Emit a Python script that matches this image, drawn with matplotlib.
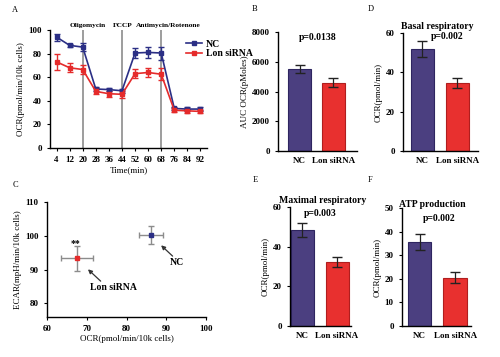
import matplotlib
matplotlib.use('Agg')
import matplotlib.pyplot as plt
from matplotlib.lines import Line2D
import numpy as np

plt.rcParams['font.family'] = 'Liberation Serif'
plt.rcParams['font.weight'] = 'bold'
plt.rcParams['font.size'] = 6.5
plt.rcParams['axes.linewidth'] = 1.0
plt.rcParams['xtick.major.size'] = 2.5
plt.rcParams['ytick.major.size'] = 2.5

# A: OCR time course
time = [4, 12, 20, 28, 36, 44, 52, 60, 68, 76, 84, 92]
nc_ocr = [94, 87, 85.5, 50, 49.5, 48.5, 80.5, 81, 80.5, 33.5, 33, 33]
nc_err = [3, 1.5, 3.5, 1.5, 1.5, 1.5, 4, 5, 5.5, 1.5, 1.5, 2]
lon_ocr = [73, 68, 66.5, 48, 46, 45.5, 63, 64, 62.5, 32, 31.5, 31]
lon_err = [7, 4, 4, 2.5, 2.5, 3, 4, 4, 5, 1.5, 1.5, 1.5]
inject_t = [20, 44, 68]
inject_lbl = ['Oligomycin', 'FCCP', 'Antimycin/Rotenone']

# C: energy map
ocr_pts = [86.2, 67.5]
ocr_pts_err = [3, 4]
ecar_pts = [100.2, 93.3]
ecar_pts_err = [2.7, 3.7]

# bar panels
groups = ['NC', 'Lon siRNA']
auc = [5500, 4600]
auc_err = [250, 300]
basal = [52, 34.5]
basal_err = [4, 2.5]
maximal = [48.5, 32.5]
maximal_err = [3.5, 2.5]
atp = [35.5, 20.5]
atp_err = [3.3, 2.2]

NAVY = '#2b2f85'
RED = '#e52b2b'
BAR_NC = '#4b3f80'
BAR_LON = '#e8302f'

W, H = 500, 357
fig = plt.figure(figsize=(5, 3.57), dpi=100)


def axpx(l, t, r, b):
    return fig.add_axes([l / W, 1 - b / H, (r - l) / W, (b - t) / H])


def clean(ax):
    ax.spines['top'].set_visible(False)
    ax.spines['right'].set_visible(False)


# ---- A
ax = axpx(50, 30, 207, 148)
clean(ax)
for t in inject_t:
    ax.axvline(t, color='#8c8c8c', lw=1.2, zorder=0)
ax.errorbar(time, nc_ocr, yerr=nc_err, color=NAVY, marker='s', ms=2.5, lw=1.2,
            capsize=2.5, elinewidth=1)
ax.errorbar(time, lon_ocr, yerr=lon_err, color=RED, marker='s', ms=2.5, lw=1.2,
            capsize=2.5, elinewidth=1)
ax.set_xlim(0, 96)
ax.set_ylim(0, 100)
ax.set_xticks(time)
ax.set_yticks([0, 20, 40, 60, 80, 100])
ax.set_xlabel('Time(min)', labelpad=1)
ax.set_ylabel('OCR(pmol/min/10k cells)', labelpad=2)
for t, s, dx in zip(inject_t, inject_lbl, [3, 0.5, 4.3]):
    ax.text(t + dx, 101.5, s, ha='center', va='bottom', fontsize=5.3)
handles = [Line2D([], [], color=NAVY, marker='s', ms=2.5, lw=1.2),
           Line2D([], [], color=RED, marker='s', ms=2.5, lw=1.2)]
ax.legend(handles, ['NC', 'Lon siRNA'], loc='upper left',
          bbox_to_anchor=(181 / W, 1 - 35 / H), bbox_transform=fig.transFigure,
          frameon=False, handlelength=1.7, handletextpad=0.4, labelspacing=0.05,
          borderpad=0, fontsize=7)


def bars(l, t, r, b, vals, errs, ylim, yticks, ylabel, xlim, ptxt, pxy, title=None, txy=None):
    ax = axpx(l, t, r, b)
    clean(ax)
    x = np.arange(len(vals))
    ax.bar(x, vals, width=0.66, color=[BAR_NC, BAR_LON],
           edgecolor=['#2e2560', '#b01e1e'], linewidth=0.8)
    ax.errorbar(x, vals, yerr=errs, fmt='none', ecolor='#222222', capsize=3.5, elinewidth=0.9)
    ax.set_xlim(*xlim)
    ax.set_ylim(*ylim)
    ax.set_yticks(yticks)
    ax.set_xticks(x)
    ax.set_xticklabels(groups)
    ax.tick_params(axis='x', length=0, pad=4)
    ax.set_ylabel(ylabel, labelpad=2)
    ax.text(pxy[0], pxy[1], ptxt, ha='center', va='center', fontsize=7)
    if title:
        ax.text(txy[0], txy[1], title, ha='center', va='center', fontsize=7)
    return ax


# ---- B
bars(278, 32, 357, 151, auc, auc_err, (0, 8000), [0, 2000, 4000, 6000, 8000],
     'AUC OCR(pMoles)', (-0.64, 1.7), 'p=0.0138', (0.55, 7650))
# ---- D
bars(403, 33, 478, 151, basal, basal_err, (0, 60), [0, 20, 40, 60],
     'OCR(pmol/min)', (-0.55, 1.6), 'p=0.002', (0.72, 58.3),
     'Basal respiratory', (0.43, 63.5))
# ---- E
bars(290, 207, 351, 326, maximal, maximal_err, (0, 60), [0, 20, 40, 60],
     'OCR(pmol/min)', (-0.35, 1.4), 'p=0.003', (0.52, 56.5),
     'Maximal respiratory', (0.6, 63.5))
# ---- F
bars(402, 208, 471, 326, atp, atp_err, (0, 50), [0, 10, 20, 30, 40, 50],
     'OCR(pmol/min)', (-0.5, 1.45), 'p=0.002', (0.55, 45.5),
     'ATP production', (0.35, 51.5))

# ---- C
ax = axpx(47, 202, 206, 317)
clean(ax)
ax.errorbar([ocr_pts[0]], [ecar_pts[0]], xerr=[ocr_pts_err[0]], yerr=[ecar_pts_err[0]],
            fmt='s', color=NAVY, ms=3.5, ecolor='#8c8c8c', elinewidth=1, capsize=2.5)
ax.errorbar([ocr_pts[1]], [ecar_pts[1]], xerr=[ocr_pts_err[1]], yerr=[ecar_pts_err[1]],
            fmt='s', color=RED, ms=3.5, ecolor='#8c8c8c', elinewidth=1, capsize=2.5)
ax.set_xlim(60, 100)
ax.set_ylim(76, 110)
ax.set_xticks([60, 70, 80, 90, 100])
ax.set_yticks([80, 90, 100, 110])
ax.set_xlabel('OCR(pmol/min/10k cells)', labelpad=1)
ax.set_ylabel('ECAR(mpH/min/10k cells)', labelpad=2)
ax.text(67.2, 97.6, '**', ha='center', va='center', fontsize=7)
arrow = dict(arrowstyle='-|>', color='#333333', lw=0.9, mutation_scale=6, shrinkA=0, shrinkB=0)
ax.annotate('', xy=(70.3, 90.1), xytext=(73.5, 86.6), arrowprops=arrow)
ax.text(76.8, 84.8, 'Lon siRNA', ha='center', va='center', fontsize=7)
ax.annotate('', xy=(88.7, 97.2), xytext=(91.6, 94.0), arrowprops=arrow)
ax.text(92.8, 92.2, 'NC', ha='center', va='center', fontsize=7)

# panel letters
for s, x, y in [('A', 15, 10), ('B', 255, 9), ('D', 371, 9), ('C', 15, 185), ('E', 255, 180), ('F', 370, 180)]:
    fig.text(x / W, 1 - y / H, s, fontsize=6, fontweight='normal', ha='center', va='center')

plt.savefig('out.png', dpi=100)
